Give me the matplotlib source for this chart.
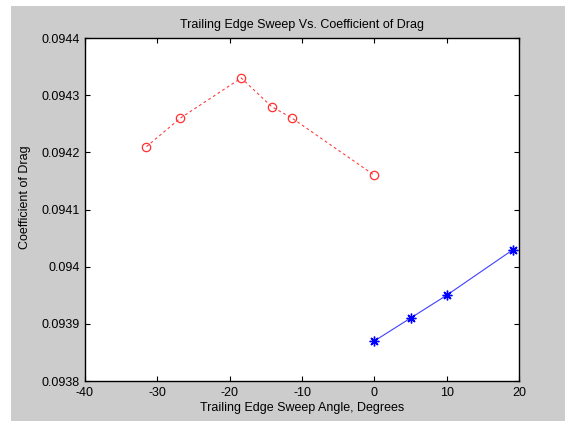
import matplotlib
matplotlib.use("Agg")
import matplotlib.pyplot as plt
from matplotlib.patches import Rectangle

# Data
sweep_neg = [-31.5, -26.8, -18.4, -14.2, -11.4, 0.0]
cd_neg = [0.09421, 0.09426, 0.09433, 0.09428, 0.09426, 0.09416]
sweep_pos = [0.0, 5.0, 10.0, 19.2]
cd_pos = [0.09387, 0.09391, 0.09395, 0.09403]

xticks = [-40, -30, -20, -10, 0, 10, 20]
xtick_labels = ["-40", "-30", "-20", "-10", "0", "10", "20"]
yticks = [0.0938, 0.0939, 0.0940, 0.0941, 0.0942, 0.0943, 0.0944]
ytick_labels = ["0.0938", "0.0939", "0.094", "0.0941", "0.0942", "0.0943", "0.0944"]

plt.rcParams['font.family'] = ['Liberation Sans', 'DejaVu Sans']
plt.rcParams['font.size'] = 9

W, H = 565, 421
fig = plt.figure(figsize=(W / 100, H / 100), dpi=100, facecolor='white')
fig.add_artist(Rectangle((11 / W, 0), 1 - 11 / W, (H - 6) / H,
                         transform=fig.transFigure, facecolor='#cccccc',
                         edgecolor='none', zorder=-10))

ax = fig.add_axes([85 / W, (H - 381) / H, 434 / W, 343 / H])
ax.set_facecolor('white')

ax.plot(sweep_neg, cd_neg, linestyle='--', color='#ff4040', linewidth=0.8,
        marker='o', markersize=6, markerfacecolor='none',
        markeredgecolor='#ff3030', markeredgewidth=0.9, dashes=(2.5, 2.5))
ax.plot(sweep_pos, cd_pos, linestyle='-', color='#4040ff', linewidth=0.8,
        marker=(8, 2, 0), markersize=7, markerfacecolor='#0000ff',
        markeredgecolor='#0000ff', markeredgewidth=1.0)

ax.set_xlim(-40, 20)
ax.set_ylim(0.0938, 0.0944)
ax.set_xticks(xticks, labels=xtick_labels)
ax.set_yticks(yticks, labels=ytick_labels)
ax.tick_params(direction='in', length=3.5, width=0.8, top=True, right=True,
               labelsize=9, pad=4, colors='black')
for s in ax.spines.values():
    s.set_linewidth(1.0)
    s.set_color('black')

ax.set_title("Trailing Edge Sweep Vs. Coefficient of Drag", fontsize=9, pad=7)
ax.set_xlabel("Trailing Edge Sweep Angle, Degrees", fontsize=9)
ax.set_ylabel("Coefficient of Drag", fontsize=9)
ax.xaxis.set_label_coords(0.5, -0.062)
ax.yaxis.set_label_coords(-0.124, 0.535)

fig.savefig("out.png", dpi=100, facecolor=fig.get_facecolor())
